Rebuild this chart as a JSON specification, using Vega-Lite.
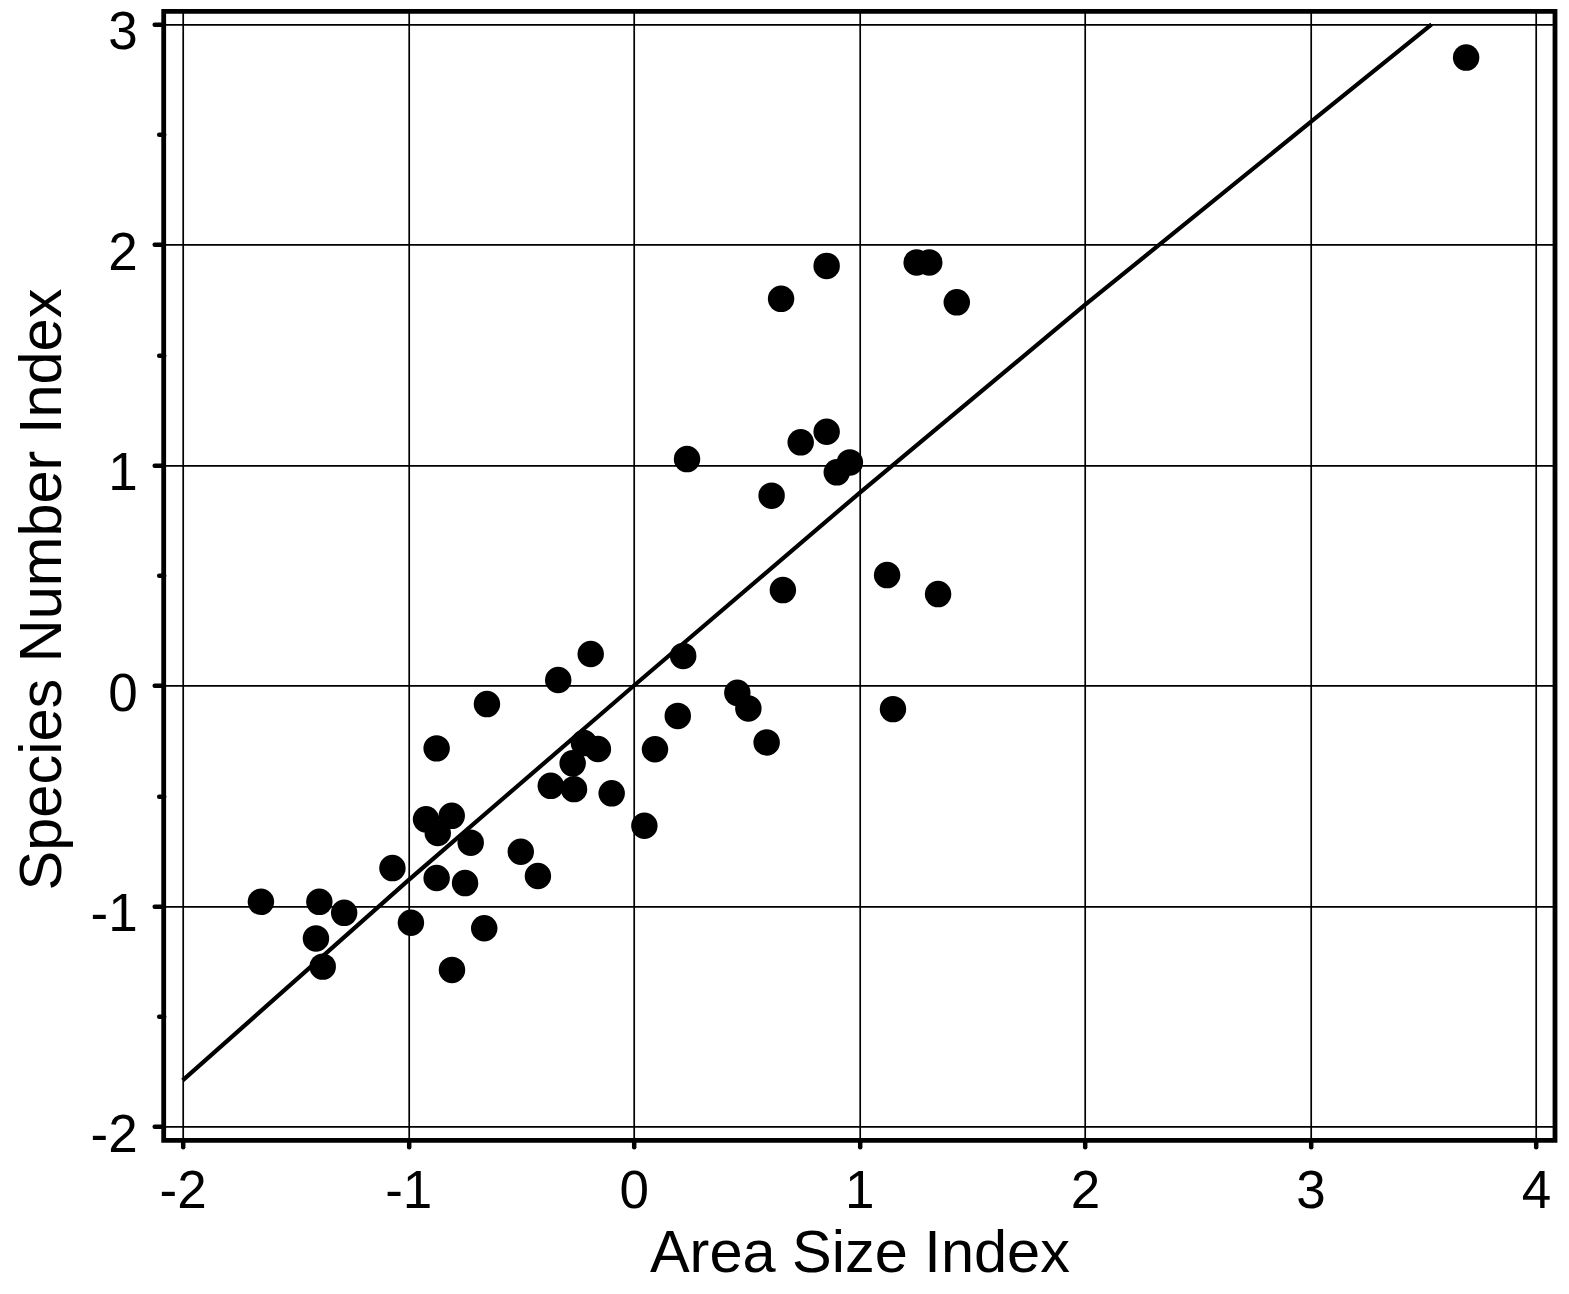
{
  "$schema": "https://vega.github.io/schema/vega-lite/v6.json",
  "autosize": "none",
  "width": 1391.3,
  "height": 1129,
  "padding": {"left": 163.7, "top": 11.3, "right": 14, "bottom": 153.7},
  "background": "white",
  "config": {
    "view": {"stroke": "black", "strokeWidth": 4.8},
    "font": "Liberation Sans",
    "axis": {
      "domain": false,
      "grid": true,
      "gridColor": "black",
      "gridWidth": 1.7,
      "gridOpacity": 1,
      "tickColor": "black",
      "tickWidth": 4.5,
      "tickCap": "round",
      "labelFont": "Liberation Sans",
      "labelFontSize": 53,
      "labelColor": "black",
      "titleFont": "Liberation Sans",
      "titleFontSize": 59.5,
      "titleFontWeight": "normal",
      "titleColor": "black"
    }
  },
  "datasets": {
    "pts": [
      {"x": 3.690, "y": 2.849}, {"x": 0.855, "y": 1.904}, {"x": 1.254, "y": 1.920}, {"x": 1.310, "y": 1.920},
      {"x": 1.432, "y": 1.739}, {"x": 0.653, "y": 1.755}, {"x": 0.855, "y": 1.152}, {"x": 0.740, "y": 1.104},
      {"x": 0.958, "y": 1.013}, {"x": 0.900, "y": 0.968}, {"x": 0.611, "y": 0.862}, {"x": 0.236, "y": 1.028},
      {"x": 1.123, "y": 0.502}, {"x": 1.349, "y": 0.416}, {"x": 0.661, "y": 0.434}, {"x": -0.191, "y": 0.144},
      {"x": 0.219, "y": 0.135}, {"x": -0.335, "y": 0.026}, {"x": -0.651, "y": -0.083}, {"x": 0.459, "y": -0.032},
      {"x": 0.508, "y": -0.103}, {"x": 1.149, "y": -0.106}, {"x": 0.195, "y": -0.137}, {"x": 0.589, "y": -0.257},
      {"x": -0.874, "y": -0.284}, {"x": -0.221, "y": -0.260}, {"x": -0.159, "y": -0.287}, {"x": 0.094, "y": -0.288},
      {"x": -0.271, "y": -0.352}, {"x": -0.368, "y": -0.454}, {"x": -0.265, "y": -0.469}, {"x": -0.098, "y": -0.488},
      {"x": 0.047, "y": -0.635}, {"x": -0.921, "y": -0.606}, {"x": -0.807, "y": -0.590}, {"x": -0.869, "y": -0.668},
      {"x": -0.723, "y": -0.712}, {"x": -0.501, "y": -0.753}, {"x": -0.425, "y": -0.863}, {"x": -1.070, "y": -0.827},
      {"x": -0.874, "y": -0.872}, {"x": -0.748, "y": -0.895}, {"x": -1.653, "y": -0.980}, {"x": -1.394, "y": -0.980},
      {"x": -1.284, "y": -1.030}, {"x": -0.988, "y": -1.075}, {"x": -0.663, "y": -1.100}, {"x": -1.409, "y": -1.146},
      {"x": -1.379, "y": -1.274}, {"x": -0.806, "y": -1.289}
    ],
    "fit": [
      {"x": -2, "y": -1.79}, {"x": -1, "y": -0.883}, {"x": 0, "y": 0.0}, {"x": 1, "y": 0.874},
      {"x": 2, "y": 1.727}, {"x": 3, "y": 2.556}, {"x": 3.537, "y": 3.0}
    ]
  },
  "encoding": {
    "x": {
      "field": "x",
      "type": "quantitative",
      "scale": {"domain": [-2.084, 4.084], "nice": false, "zero": false},
      "axis": {
        "title": "Area Size Index",
        "values": [-2, -1, 0, 1, 2, 3, 4],
        "tickSize": 6.5,
        "labelPadding": 61,
        "labelBaseline": "alphabetic",
        "labelExpr": "datum.value < 0 ? '-' + abs(datum.value) : '' + datum.value",
        "titleBaseline": "alphabetic",
        "titleY": 131.4,
        "titleX": 695.7
      }
    },
    "y": {
      "field": "y",
      "type": "quantitative",
      "scale": {"domain": [-2.0617, 3.059], "nice": false, "zero": false},
      "axis": {
        "title": "Species Number Index",
        "values": [-2, -1.5, -1, -0.5, 0, 0.5, 1, 1.5, 2, 2.5, 3],
        "tickSize": {"condition": {"test": "datum.value % 1 !== 0", "value": 5}, "value": 9.5},
        "gridOpacity": {"condition": {"test": "datum.value % 1 !== 0", "value": 0}, "value": 1},
        "labelPadding": 17,
        "labelBaseline": "alphabetic",
        "labelOffset": 24.5,
        "labelExpr": "datum.value % 1 !== 0 ? '' : (datum.value < 0 ? '-' + abs(datum.value) : '' + datum.value)",
        "titleBaseline": "alphabetic",
        "titleAngle": 270,
        "titleAlign": "center",
        "titleX": -103.7,
        "titleY": 577.7
      }
    }
  },
  "layer": [
    {
      "data": {"name": "fit"},
      "mark": {"type": "line", "color": "black", "strokeWidth": 4.2},
      "encoding": {"order": {"field": "x", "type": "quantitative"}}
    },
    {
      "data": {"name": "pts"},
      "mark": {"type": "circle", "color": "black", "opacity": 1, "size": 700}
    }
  ]
}
